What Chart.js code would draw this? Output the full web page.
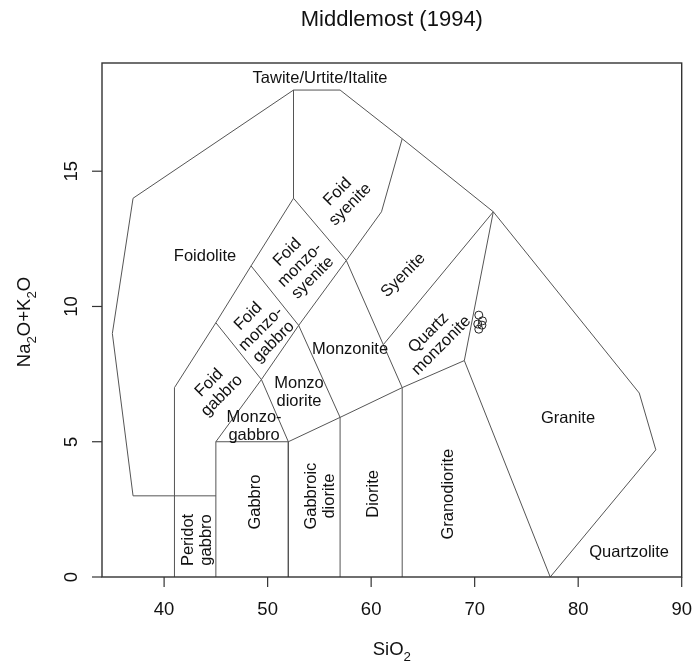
<!DOCTYPE html>
<html>
<head>
<meta charset="utf-8">
<title>Middlemost (1994)</title>
<script src="https://cdn.jsdelivr.net/npm/chart.js@4"></script>
<style>
    html, body { margin: 0; padding: 0; background: #fff; }
    #wrap { width: 694px; height: 665px; position: relative; }
</style>
</head>
<body>
<div id="wrap"><canvas id="tasChart"></canvas></div>
<script>
// Field boundaries (SiO2, Na2O+K2O)
const outerLine = [[41, 3], [37, 3], [35, 9], [37, 14], [52.5, 18], [57, 18], [63, 16.2], [71.8, 13.5], [85.9, 6.8], [87.5, 4.7], [77.3, 0]];
const foidLine = [[41, 0], [41, 7], [45, 9.4], [48.4, 11.5], [52.5, 14], [52.5, 18]];
const peridotTop = [[41, 3], [45, 3]];
const gabbroLine = [[45, 0], [45, 5], [52, 5], [52, 0]];
const monzogabbroLine = [[45, 5], [49.4, 7.3], [45, 9.4]];
const quartzLine = [[49.4, 7.3], [52, 5], [57, 5.9], [63, 7], [69, 8], [77.3, 0]];
const dioriteLine = [[57, 0], [57, 5.9], [53, 9.3], [49.4, 7.3]];
const monzoniteLine = [[63, 0], [63, 7], [57.6, 11.7], [52.5, 14]];
const syeniteLine = [[48.4, 11.5], [53, 9.3], [57.6, 11.7], [61, 13.5], [63, 16.2]];
const qtzMonzLine = [[61.2, 8.6], [71.8, 13.5], [69, 8]];

const boundaries = [outerLine, foidLine, peridotTop, gabbroLine, monzogabbroLine,
    quartzLine, dioriteLine, monzoniteLine, syeniteLine, qtzMonzLine];

// Samples
const sampleSiO2 = [70.4, 70.75, 70.3, 70.7, 70.4];
const sampleAlk = [9.68, 9.47, 9.35, 9.31, 9.16];

// Axes
const xTicks = [40, 50, 60, 70, 80, 90];
const yTicks = [0, 5, 10, 15];

const FONT = '"Liberation Sans", Arial, Helvetica, sans-serif';

// name, anchor (data units), angle in degrees
const regionLabels = [
    { text: ['Tawite/Urtite/Italite'], x: 55.06, y: 18.43, rot: 0 },
    { text: ['Foidolite'], x: 43.95, y: 11.86, rot: 0 },
    { text: ['Foid', 'syenite'], x: 57.38, y: 14.0, rot: -45 },
    { text: ['Foid', 'monzo-', 'syenite'], x: 53.13, y: 11.53, rot: -45 },
    { text: ['Syenite'], x: 63.1, y: 11.15, rot: -45 },
    { text: ['Foid', 'monzo-', 'gabbro'], x: 49.36, y: 9.16, rot: -45 },
    { text: ['Monzonite'], x: 57.96, y: 8.42, rot: 0 },
    { text: ['Quartz', 'monzonite'], x: 66.17, y: 8.79, rot: -45 },
    { text: ['Foid', 'gabbro'], x: 44.97, y: 6.94, rot: -45 },
    { text: ['Monzo', 'diorite'], x: 53.03, y: 6.83, rot: 0 },
    { text: ['Monzo-', 'gabbro'], x: 48.69, y: 5.58, rot: 0 },
    { text: ['Peridot', 'gabbro'], x: 43.23, y: 1.37, rot: -90 },
    { text: ['Gabbro'], x: 48.78, y: 2.77, rot: -90 },
    { text: ['Gabbroic', 'diorite'], x: 55.06, y: 2.99, rot: -90 },
    { text: ['Diorite'], x: 60.22, y: 3.07, rot: -90 },
    { text: ['Granodiorite'], x: 67.46, y: 3.06, rot: -90 },
    { text: ['Granite'], x: 79.02, y: 5.87, rot: 0 },
    { text: ['Quartzolite'], x: 84.92, y: 0.92, rot: 0 }
];

// draw text made of normal and subscript pieces, centred on the current origin
function drawRich(ctx, parts, size) {
    const subSize = size * 0.72;
    let total = 0;
    parts.forEach(function(p) {
        ctx.font = (p.sub ? subSize : size) + 'px ' + FONT;
        total += ctx.measureText(p.t).width;
    });
    let pos = -total / 2;
    ctx.textAlign = 'left';
    ctx.textBaseline = 'middle';
    parts.forEach(function(p) {
        ctx.font = (p.sub ? subSize : size) + 'px ' + FONT;
        ctx.fillText(p.t, pos, p.sub ? size * 0.38 : 0);
        pos += ctx.measureText(p.t).width;
    });
}

const rStylePlugin = {
    id: 'rStyle',
    afterDatasetsDraw: function(chart) {
        const ctx = chart.ctx;
        const area = chart.chartArea;
        const xs = chart.scales.x;
        const ys = chart.scales.y;
        ctx.save();

        // box
        ctx.strokeStyle = '#333';
        ctx.lineWidth = 1.4;
        ctx.strokeRect(area.left, area.top, area.right - area.left, area.bottom - area.top);

        // ticks
        ctx.lineWidth = 1.2;
        ctx.fillStyle = '#111';
        ctx.font = '18.5px ' + FONT;
        ctx.textAlign = 'center';
        ctx.textBaseline = 'middle';
        xTicks.forEach(function(v) {
            const px = xs.getPixelForValue(v);
            ctx.beginPath();
            ctx.moveTo(px, area.bottom);
            ctx.lineTo(px, area.bottom + 10);
            ctx.stroke();
            ctx.fillText(String(v), px, area.bottom + 33);
        });
        yTicks.forEach(function(v) {
            const py = ys.getPixelForValue(v);
            ctx.beginPath();
            ctx.moveTo(area.left, py);
            ctx.lineTo(area.left - 10, py);
            ctx.stroke();
            ctx.save();
            ctx.translate(area.left - 30, py);
            ctx.rotate(-Math.PI / 2);
            ctx.fillText(String(v), 0, 0);
            ctx.restore();
        });

        // axis titles
        ctx.save();
        ctx.translate((area.left + area.right) / 2, area.bottom + 73);
        drawRich(ctx, [{ t: 'SiO' }, { t: '2', sub: true }], 18.5);
        ctx.restore();

        ctx.save();
        ctx.translate(25, (area.top + area.bottom) / 2 + 2);
        ctx.rotate(-Math.PI / 2);
        drawRich(ctx, [{ t: 'Na' }, { t: '2', sub: true }, { t: 'O+K' }, { t: '2', sub: true }, { t: 'O' }], 18.5);
        ctx.restore();

        // main title
        ctx.font = '22px ' + FONT;
        ctx.textAlign = 'center';
        ctx.textBaseline = 'middle';
        ctx.fillText('Middlemost (1994)', (area.left + area.right) / 2, 20);

        // field names
        ctx.font = '16.5px ' + FONT;
        const lh = 18;
        regionLabels.forEach(function(lab) {
            ctx.save();
            ctx.translate(xs.getPixelForValue(lab.x), ys.getPixelForValue(lab.y));
            ctx.rotate(lab.rot * Math.PI / 180);
            const n = lab.text.length;
            lab.text.forEach(function(line, i) {
                ctx.fillText(line, 0, (i - (n - 1) / 2) * lh);
            });
            ctx.restore();
        });

        ctx.restore();
    }
};

const datasets = boundaries.map(function(line) {
    return {
        data: line.map(function(p) { return { x: p[0], y: p[1] }; }),
        showLine: true,
        borderColor: '#555',
        borderWidth: 1,
        pointRadius: 0,
        fill: false,
        tension: 0
    };
});

datasets.push({
    data: sampleSiO2.map(function(v, i) { return { x: v, y: sampleAlk[i] }; }),
    showLine: false,
    pointStyle: 'circle',
    pointRadius: 4,
    borderColor: '#222',
    backgroundColor: 'rgba(0,0,0,0)',
    borderWidth: 1
});

new Chart(document.getElementById('tasChart').getContext('2d'), {
    type: 'scatter',
    data: { datasets: datasets },
    options: {
        responsive: true,
        maintainAspectRatio: false,
        animation: false,
        layout: {
            padding: { left: 102, right: 12.3, top: 63, bottom: 88 }
        },
        scales: {
            x: { type: 'linear', min: 34, max: 90, display: false },
            y: { type: 'linear', min: 0, max: 19, display: false }
        },
        plugins: {
            legend: { display: false },
            tooltip: { enabled: false }
        }
    },
    plugins: [rStylePlugin]
});
</script>
</body>
</html>
